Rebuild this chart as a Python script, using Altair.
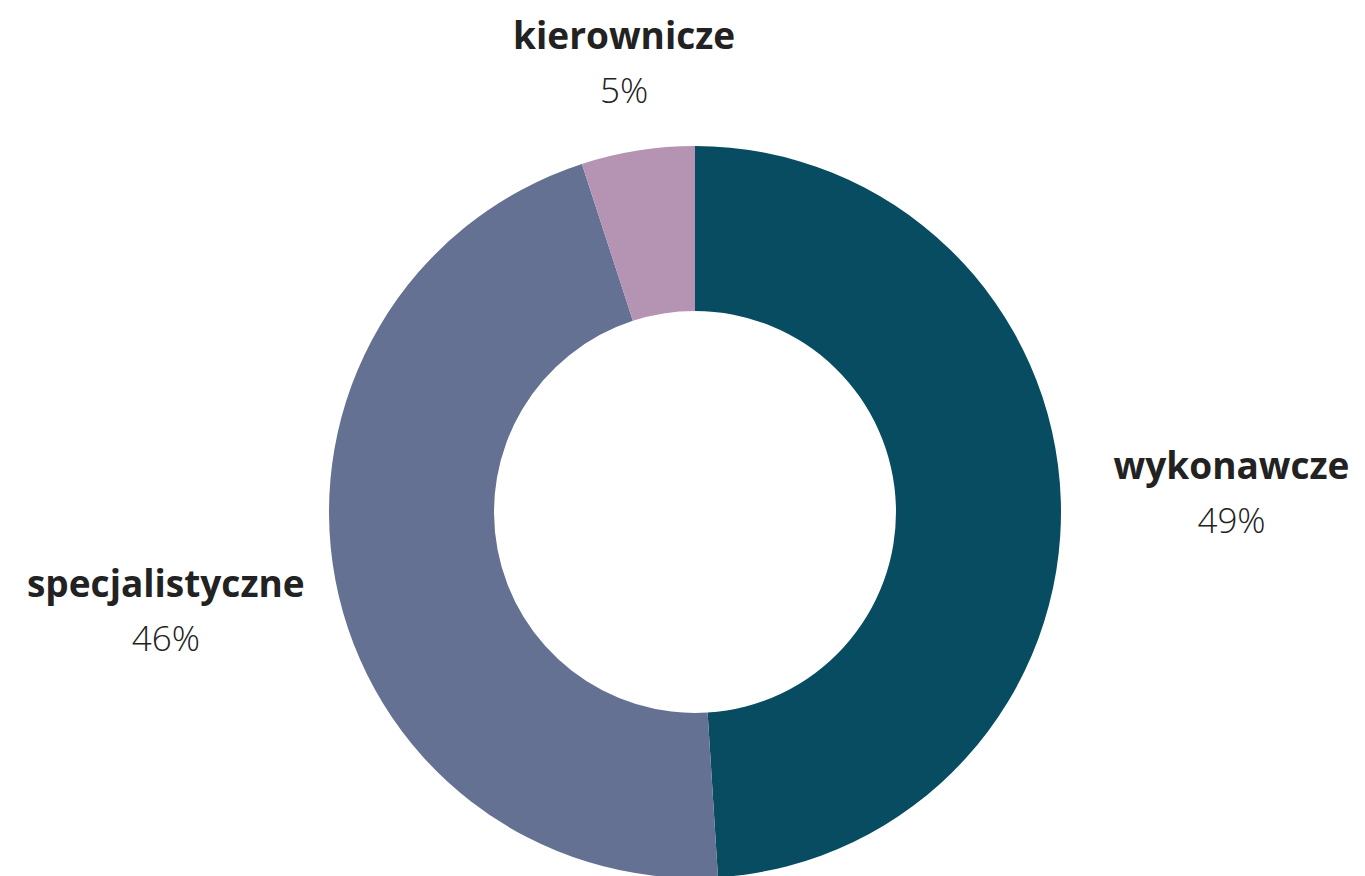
import altair as alt
import pandas as pd

categories = ["wykonawcze", "specjalistyczne", "kierownicze"]
shares = [49, 46, 5]
pct_labels = ["49%", "46%", "5%"]
colors = ["#074C61", "#657193", "#B594B3"]

df = pd.DataFrame({
    "label": categories,
    "value": shares,
    "pct": pct_labels,
    "idx": list(range(len(categories))),
})

W, H = 1349, 868
CX, CY = 687, 504
R, R0 = 366, 201

base = alt.Chart(df)

arcs = base.mark_arc(outerRadius=R, innerRadius=R0).encode(
    theta=alt.Theta("value:Q", stack=True),
    order=alt.Order("idx:O"),
    color=alt.Color("label:N", scale=alt.Scale(domain=categories, range=colors), legend=None),
    x=alt.value(CX),
    y=alt.value(CY),
)

lab = (
    base.transform_window(cum="sum(value)", sort=[alt.SortField("idx")], frame=[None, 0])
    .transform_joinaggregate(total="sum(value)")
    .transform_calculate(mid="2*PI*(datum.cum - datum.value/2)/datum.total")
    .transform_calculate(lr=f"{R}+40+abs(cos(datum.mid))*27+abs(sin(datum.mid))*130")
    .transform_calculate(lx=f"{CX}+datum.lr*sin(datum.mid)")
    .transform_calculate(ly=f"{CY}-datum.lr*cos(datum.mid)")
)

names = lab.mark_text(font="Open Sans", fontWeight="bold", fontSize=37, dy=-27, color="#222222").encode(
    x=alt.X("lx:Q", scale=None, axis=None),
    y=alt.Y("ly:Q", scale=None, axis=None),
    text="label:N",
)
pcts = lab.mark_text(font="Open Sans", fontWeight=300, fontSize=35, dy=27, color="#222222").encode(
    x=alt.X("lx:Q", scale=None, axis=None),
    y=alt.Y("ly:Q", scale=None, axis=None),
    text="pct:N",
)

chart = alt.layer(arcs, names, pcts).properties(
    width=W, height=H, padding=0, autosize=alt.AutoSizeParams(type="none")
).configure_view(stroke=None)

chart.save("out.html", embed_options={"renderer": "svg", "actions": False})
